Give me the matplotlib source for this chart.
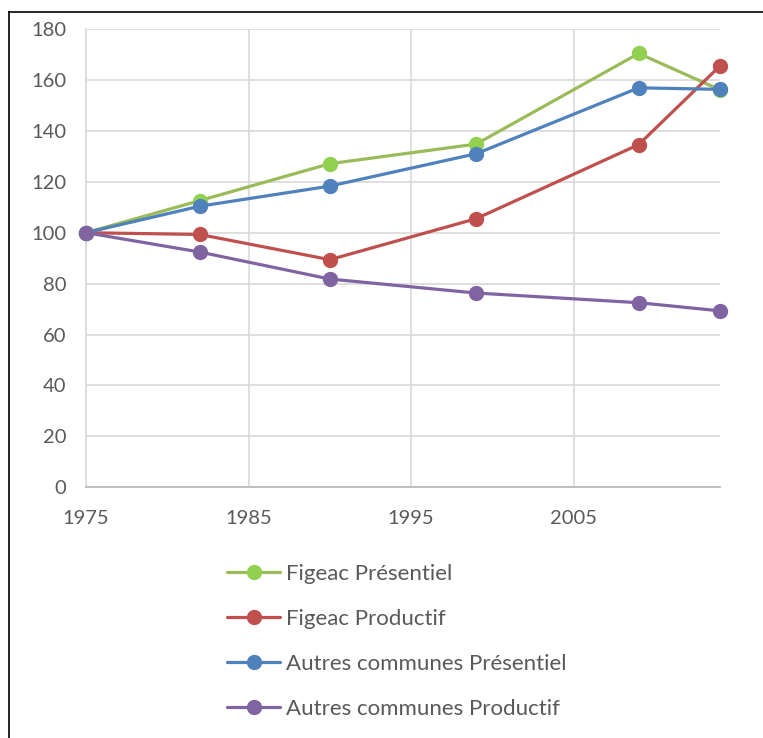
import matplotlib
matplotlib.use("Agg")
import matplotlib.pyplot as plt
from matplotlib.lines import Line2D

plt.rcParams['font.family'] = ['Lato', 'DejaVu Sans']

years = [1975, 1982, 1990, 1999, 2009, 2014]
figeac_presentiel = [100, 112.6, 127.1, 134.8, 170.4, 156.1]
figeac_productif = [100, 99.3, 89.4, 105.5, 134.6, 165.5]
autres_presentiel = [100, 110.4, 118.3, 131.0, 156.9, 156.3]
autres_productif = [100, 92.4, 81.8, 76.3, 72.5, 69.3]

series_labels = ["Figeac Présentiel", "Figeac Productif",
                 "Autres communes Présentiel", "Autres communes Productif"]
line_colors = ["#9BBB59", "#C0504D", "#4F81BD", "#8064A2"]
marker_colors = ["#92D050", "#C0504D", "#4F81BD", "#8064A2"]

x_ticks = [1975, 1985, 1995, 2005]
y_ticks = list(range(0, 181, 20))

W, H = 763, 738
fig = plt.figure(figsize=(W / 100, H / 100), dpi=100)
ax = fig.add_axes([86 / W, 1 - 487.3 / H, (720 - 86) / W, (487.3 - 29) / H])

series = [figeac_presentiel, figeac_productif, autres_presentiel, autres_productif]
for vals, lab, lc, mc in zip(series, series_labels, line_colors, marker_colors):
    ax.plot(years, vals, color=lc, lw=2.3, marker='o', markersize=10,
            markerfacecolor=mc, markeredgecolor=mc, label=lab,
            solid_capstyle='round', clip_on=False, zorder=3)

ax.set_xlim(1975, 2014)
ax.set_ylim(0, 180)
ax.set_xticks(x_ticks)
ax.set_yticks(y_ticks)
ax.grid(True, color="#D9D9D9", lw=1.2)
ax.set_axisbelow(True)
for s in ['top', 'right']:
    ax.spines[s].set_visible(False)
ax.spines['left'].set_color("#D9D9D9")
ax.spines['left'].set_linewidth(1.2)
ax.spines['bottom'].set_color("#BFBFBF")
ax.spines['bottom'].set_linewidth(1.4)
ax.tick_params(axis='both', length=0, labelsize=14.5, labelcolor="#595959")
ax.tick_params(axis='y', pad=14)
ax.tick_params(axis='x', pad=16)

leg = fig.legend(loc='upper left', bbox_to_anchor=(227 / W, 1 - 564 / H),
                 frameon=False, fontsize=16, labelcolor="#595959",
                 handlelength=2.4, handletextpad=0.27, labelspacing=1.12,
                 borderpad=0, borderaxespad=0)

# outer frame
fig.add_artist(Line2D([9 / W, 1], [1 - 12 / H, 1 - 12 / H], color='black', lw=1.2,
                      transform=fig.transFigure))
fig.add_artist(Line2D([9 / W, 9 / W], [0, 1 - 12 / H], color='black', lw=1.2,
                      transform=fig.transFigure))

fig.savefig("out.png", dpi=100)
